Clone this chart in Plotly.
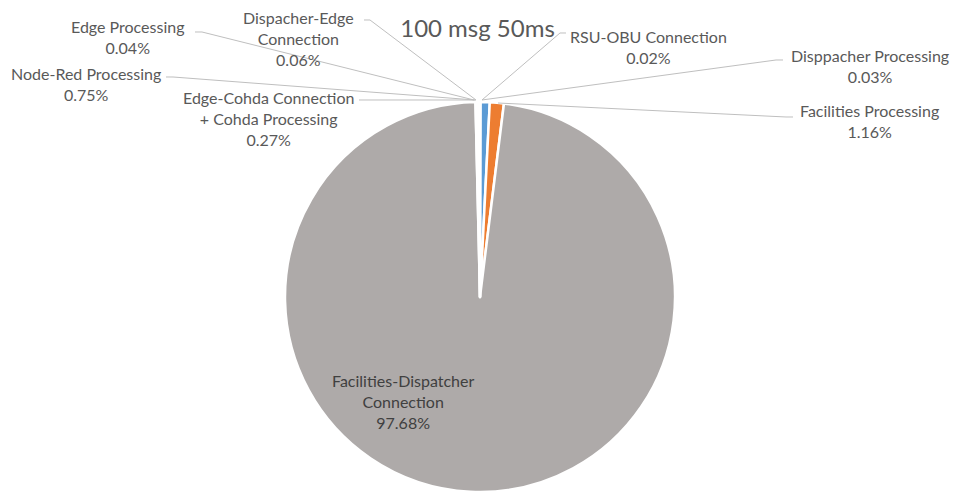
import plotly.graph_objects as go

# Latency breakdown for 100 messages at a 50 ms interval
names = [
    "RSU-OBU Connection",
    "Disppacher Processing",
    "Node-Red Processing",
    "Facilities Processing",
    "Facilities-Dispatcher Connection",
    "Edge-Cohda Connection + Cohda Processing",
    "Edge Processing",
    "Dispacher-Edge Connection",
]
label_lines = [
    "RSU-OBU Connection",
    "Disppacher Processing",
    "Node-Red Processing",
    "Facilities Processing",
    "Facilities-Dispatcher<br>Connection",
    "Edge-Cohda Connection<br>+ Cohda Processing",
    "Edge Processing",
    "Dispacher-Edge<br>Connection",
]
shares = [0.02, 0.03, 0.75, 1.16, 97.68, 0.27, 0.04, 0.06]
slice_colors = ["#FFFFFF", "#FFFFFF", "#5B9BD5", "#ED7D31", "#AEAAA9",
                "#FFFFFF", "#FFFFFF", "#FFFFFF"]

W, H = 955, 492
FONT = "Lato"
TEXT_GREY = "#595959"
LINE_GREY = "#BFBFBF"


def px(x):
    return x / W


def py(y):
    return 1 - y / H


# label placement: centre of text block, and leader path (None for the big slice)
label_layout = {
    "RSU-OBU Connection": ((648, 47), [(566, 33), (560, 33), (482, 100)]),
    "Disppacher Processing": ((870, 66), [(783, 60), (776, 60), (482, 100)]),
    "Node-Red Processing": ((86, 84), [(166, 77), (173, 77), (475, 100)]),
    "Facilities Processing": ((869, 121), [(793, 117), (786, 117), (498, 103)]),
    "Facilities-Dispatcher Connection": ((403, 401), None),
    "Edge-Cohda Connection + Cohda Processing": ((268, 118), [(359, 100), (476, 100)]),
    "Edge Processing": ((128, 37), [(195, 32), (202, 32), (474, 100)]),
    "Dispacher-Edge Connection": ((298, 38), [(364, 20), (370, 20), (476, 100)]),
}

fig = go.Figure(
    go.Pie(
        labels=names,
        values=shares,
        sort=False,
        direction="clockwise",
        rotation=0,
        marker=dict(colors=slice_colors, line=dict(color="#FFFFFF", width=2.5)),
        textinfo="none",
        hoverinfo="label+percent",
        showlegend=False,
        domain=dict(x=[px(285), px(675)], y=[0, 390 / H]),
    )
)

annotations = []
shapes = []
for name, text, val in zip(names, label_lines, shares):
    (cx, cy), leader = label_layout[name]
    big = leader is None
    annotations.append(dict(
        x=px(cx), y=py(cy), xref="paper", yref="paper",
        text=f"{text}<br>{val:.2f}%", showarrow=False,
        xanchor="center", yanchor="middle", align="center",
        font=dict(family=FONT, size=16, color="#404040" if big else TEXT_GREY),
    ))
    if leader:
        path = "M " + " L ".join(f"{px(x):.5f},{py(y):.5f}" for x, y in leader)
        shapes.append(dict(type="path", path=path, xref="paper", yref="paper",
                           line=dict(color=LINE_GREY, width=1)))

fig.update_layout(
    width=W, height=H,
    margin=dict(l=0, r=0, t=0, b=0),
    paper_bgcolor="#FFFFFF",
    plot_bgcolor="#FFFFFF",
    title=dict(text="100 msg 50ms", x=0.5, xanchor="center",
               y=py(29), yanchor="middle", yref="paper",
               font=dict(family=FONT, size=24, color=TEXT_GREY)),
    annotations=annotations,
    shapes=shapes,
)

fig.write_html("out.html")
